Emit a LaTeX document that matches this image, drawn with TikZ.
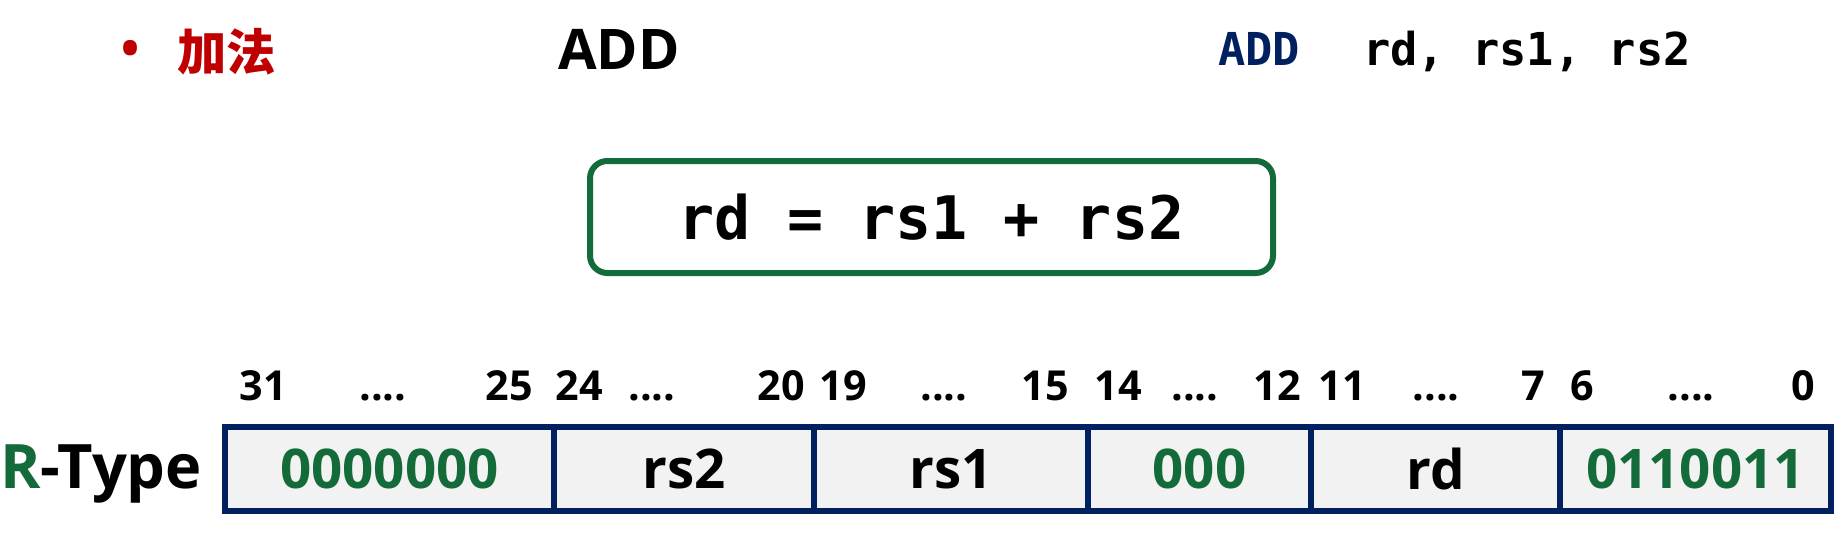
\documentclass[tikz,border=0pt]{standalone}
\usepackage{fontspec}
\setmainfont{Open Sans}
\newfontfamily\cjkfont{Noto Sans CJK SC}
\newfontfamily\monofont{DejaVu Sans Mono}
\definecolor{myred}{HTML}{C00000}
\definecolor{mygreen}{HTML}{146B3A}
\definecolor{mynavy}{HTML}{002060}
\definecolor{cellgray}{HTML}{F2F2F2}
\begin{document}
\begin{tikzpicture}[x=0.75pt,y=-0.75pt,
  every node/.style={inner sep=0pt, outer sep=0pt},
  cell/.style={draw=mynavy, line width=3.8pt, fill=cellgray, minimum height=84*0.75pt,
    font=\fontsize{41}{48}\selectfont\bfseries},
  bitlbl/.style={font=\fontsize{31}{36}\selectfont\bfseries, anchor=base},
  eqbox/.style={draw=mygreen, line width=4.5pt, rounded corners=13pt,
    minimum width=683*0.75pt, minimum height=112*0.75pt,
    font=\fontsize{45}{54}\selectfont\monofont\bfseries},
  topmono/.style={font=\fontsize{34}{40}\selectfont\monofont\bfseries, anchor=base},
  greentxt/.style={text=mygreen}]
\useasboundingbox (0,0) rectangle (1843,542);

% top row
\node[text=myred, anchor=base, font=\fontsize{48}{48}\selectfont] (bullet) at (131,72) {•};
\node[text=myred, anchor=base west, font=\fontsize{37}{44}\selectfont\cjkfont\bfseries] (title) at (177,71) {加法};
\node[anchor=base, font=\fontsize{42}{50}\selectfont\bfseries] (mnem) at (619,70) {ADD};
\node[topmono, text=mynavy] (asmop) at (1259,66) {ADD};
\node[topmono] (asmargs) at (1527,66) {rd, rs1, rs2};

% equation box
\node[eqbox] (eq) at (931.5,217) {rd = rs1 + rs2};

% bit labels
\node[bitlbl] (b31) at (263,400) {31};
\node[bitlbl] (d1) at (383,400) {....};
\node[bitlbl] (b25) at (509,400) {25};
\node[bitlbl] (b24) at (579,400) {24};
\node[bitlbl] (d2) at (652,400) {....};
\node[bitlbl] (b20) at (781,400) {20};
\node[bitlbl] (b19) at (843,400) {19};
\node[bitlbl] (d3) at (944,400) {....};
\node[bitlbl] (b15) at (1045,400) {15};
\node[bitlbl] (b14) at (1118,400) {14};
\node[bitlbl] (d4) at (1195,400) {....};
\node[bitlbl] (b12) at (1277,400) {12};
\node[bitlbl] (b11) at (1342,400) {11};
\node[bitlbl] (d5) at (1436,400) {....};
\node[bitlbl] (b7) at (1533,400) {7};
\node[bitlbl] (b6) at (1582,400) {6};
\node[bitlbl] (d6) at (1691,400) {....};
\node[bitlbl] (b0) at (1803,400) {0};

% R-Type label
\node[anchor=base west, font=\fontsize{46}{54}\selectfont\bfseries] (rtype) at (0,488) {\textcolor{mygreen}{R}-Type};

% instruction format cells
\node[cell, minimum width=329*0.75pt, greentxt] (funct7) at (389.5,469) {0000000};
\node[cell, minimum width=260*0.75pt] (rs2) at (684,469) {rs2};
\node[cell, minimum width=274*0.75pt] (rs1) at (951,469) {rs1};
\node[cell, minimum width=223*0.75pt, greentxt] (funct3) at (1199.5,469) {000};
\node[cell, minimum width=249*0.75pt] (rd) at (1435.5,469) {rd};
\node[cell, minimum width=271*0.75pt, greentxt] (opcode) at (1695.5,469) {0110011};
\end{tikzpicture}
\end{document}
